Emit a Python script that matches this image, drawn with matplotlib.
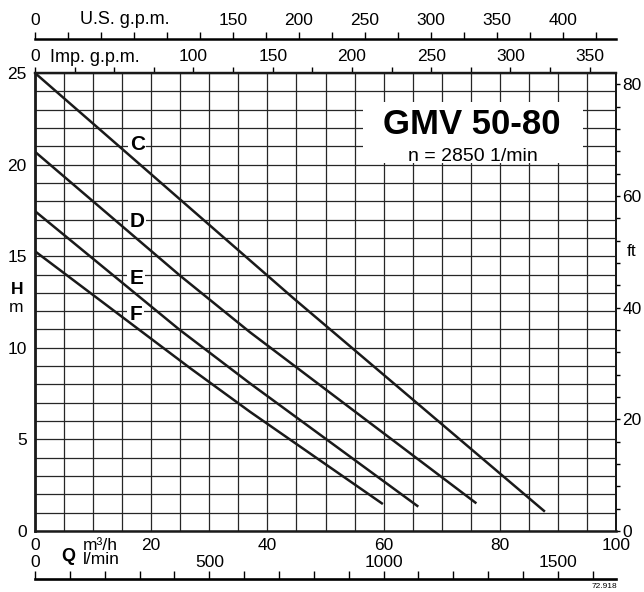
import matplotlib
matplotlib.use("Agg")
import matplotlib.pyplot as plt
from matplotlib import transforms
from matplotlib.patches import Rectangle
from matplotlib.ticker import FixedLocator, MultipleLocator, NullFormatter

plt.rcParams["font.family"] = ["Liberation Sans", "DejaVu Sans"]

# Pump curves, Q in m3/h and H in m
curve_names = ["C", "D", "E", "F"]
q_c = [0, 44.5, 87.6]
h_c = [25.0, 12.7, 1.1]
q_d = [0, 25, 37, 75.8]
h_d = [20.7, 13.93, 10.85, 1.55]
q_e = [0, 24.9, 37, 65.8]
h_e = [17.46, 10.98, 8.06, 1.37]
q_f = [0, 26.7, 37, 59.7]
h_f = [15.27, 8.89, 6.51, 1.51]

# axis labels
q_labels = [0, 20, 40, 60, 80, 100]
h_labels = [0, 5, 10, 15, 20, 25]
us_gpm_labels = [0, 150, 200, 250, 300, 350, 400]
imp_gpm_labels = [0, 100, 150, 200, 250, 300, 350]
lmin_labels = [0, 500, 1000, 1500]
ft_labels = [0, 20, 40, 60, 80]

title = "GMV 50-80"
subtitle = "n = 2850 1/min"

US_GPM = 4.40287
IMP_GPM = 3.66615
LMIN = 1000 / 60
FT = 3.28084

W, H = 644, 592
fig = plt.figure(figsize=(W / 100, H / 100), dpi=100)
x0, x1, y0, y1 = 35, 616, 531, 73
ax = fig.add_axes([x0 / W, (H - y0) / H, (x1 - x0) / W, (y0 - y1) / H])


def axfrac(px, py):
    # pixel in the picture -> axes fraction of the main axes
    return (px - x0) / (x1 - x0), (y0 - py) / (y0 - y1)


ax.set_xlim(0, 100)
ax.set_ylim(0, 25)
ax.set_xticks(q_labels)
ax.set_yticks(h_labels)
ax.xaxis.set_minor_locator(MultipleLocator(5))
ax.yaxis.set_minor_locator(MultipleLocator(1))
ax.set_axisbelow(True)
ax.grid(which="both", color="#262626", linewidth=0.9)
ax.tick_params(which="both", length=0, labelsize=12.5)
ax.tick_params(axis="x", pad=5)
ax.tick_params(axis="y", pad=6)
for side, lw in [("left", 2.0), ("bottom", 1.8), ("top", 1.6), ("right", 1.3)]:
    ax.spines[side].set_linewidth(lw)
    ax.spines[side].set_color("#1a1a1a")

for name, q, h in [("C", q_c, h_c), ("D", q_d, h_d), ("E", q_e, h_e), ("F", q_f, h_f)]:
    ax.plot(q, h, color="#1a1a1a", linewidth=1.8, zorder=3)

# curve letters sit under the curves but over the grid
label_pos = [(17.6, 21.1), (17.5, 16.9), (17.4, 13.8), (17.3, 11.8)]
for name, (lx, ly) in zip(curve_names, label_pos):
    ax.text(lx, ly, name, fontsize=15, fontweight="bold", ha="center", va="center",
            bbox=dict(facecolor="white", edgecolor="none", pad=1.2), zorder=2.5)

# title block
ax.add_patch(Rectangle((56.5, 20.07), 37.8, 3.33, facecolor="white",
                       edgecolor="none", zorder=2))
ax.text(75.1, 22.2, title, fontsize=25, fontweight="bold", ha="center",
        va="center", zorder=4)
ax.text(75.3, 20.45, subtitle, fontsize=14, ha="center", va="center", zorder=4)

# Imp. g.p.m. on the top spine
imp = ax.secondary_xaxis("top", functions=(lambda q: q * IMP_GPM, lambda g: g / IMP_GPM))
imp.xaxis.set_major_locator(FixedLocator(imp_gpm_labels))
imp.xaxis.set_minor_locator(MultipleLocator(25))
imp.xaxis.set_minor_formatter(NullFormatter())
imp.tick_params(which="both", direction="out", length=4.5, width=1.0, labelsize=12.5, pad=2)
imp.spines["top"].set_linewidth(1.6)

# U.S. g.p.m. on its own line above
us = ax.secondary_xaxis(axfrac(0, 39)[1], functions=(lambda q: q * US_GPM, lambda g: g / US_GPM))
us.xaxis.set_major_locator(FixedLocator(us_gpm_labels))
us.xaxis.set_minor_locator(MultipleLocator(25))
us.xaxis.set_minor_formatter(NullFormatter())
us.tick_params(which="both", direction="out", length=4.8, width=1.0, labelsize=12.5, pad=3)
us.spines["top"].set_linewidth(1.8)

# l/min line below
lm = ax.secondary_xaxis(axfrac(0, 579.5)[1], functions=(lambda q: q * LMIN, lambda v: v / LMIN))
lm.set_alignment("top")
lm.xaxis.set_major_locator(FixedLocator(lmin_labels))
lm.xaxis.set_minor_locator(MultipleLocator(100))
lm.xaxis.set_minor_formatter(NullFormatter())
lm.tick_params(which="both", direction="out", length=5.5, width=1.0, labelsize=12.5, pad=1.5)
lm.spines["top"].set_linewidth(1.9)

# feet on the right
ft = ax.secondary_yaxis("right", functions=(lambda m: m * FT, lambda f: f / FT))
ft.yaxis.set_major_locator(FixedLocator(ft_labels))
ft.yaxis.set_minor_locator(MultipleLocator(4))
ft.yaxis.set_minor_formatter(NullFormatter())
ft.tick_params(which="both", direction="out", length=3, width=1.0, labelsize=12.5, pad=1.5)
ft.spines["right"].set_linewidth(1.3)

# unit texts
ax.text(*axfrac(80, 24), "U.S. g.p.m.", transform=ax.transAxes, fontsize=13,
        ha="left", va="baseline")
ax.text(*axfrac(50, 61.7), "Imp. g.p.m.", transform=ax.transAxes, fontsize=13,
        ha="left", va="baseline")
ax.text(*axfrac(83, 545), "m\u00b3/h", transform=ax.transAxes, fontsize=12.5,
        ha="left", va="center")
ax.text(*axfrac(83, 560), "l/min", transform=ax.transAxes, fontsize=12.5,
        ha="left", va="center")
ax.text(*axfrac(68.5, 556.5), "Q", transform=ax.transAxes, fontsize=13,
        fontweight="bold", ha="center", va="center")
ax.text(*axfrac(17, 289), "H", transform=ax.transAxes, fontsize=12.5,
        fontweight="bold", ha="center", va="center")
ax.text(*axfrac(16.5, 307), "m", transform=ax.transAxes, fontsize=12.5,
        ha="center", va="center")
blend = transforms.blended_transform_factory(ax.transAxes, ax.transData)
ax.text(axfrac(632, 0)[0], 50 / FT, "ft", transform=blend, fontsize=12.5,
        ha="center", va="center")
ax.text(*axfrac(617, 587), "72.918", transform=ax.transAxes, fontsize=6,
        ha="right", va="center")

fig.savefig("out.png", dpi=100)
